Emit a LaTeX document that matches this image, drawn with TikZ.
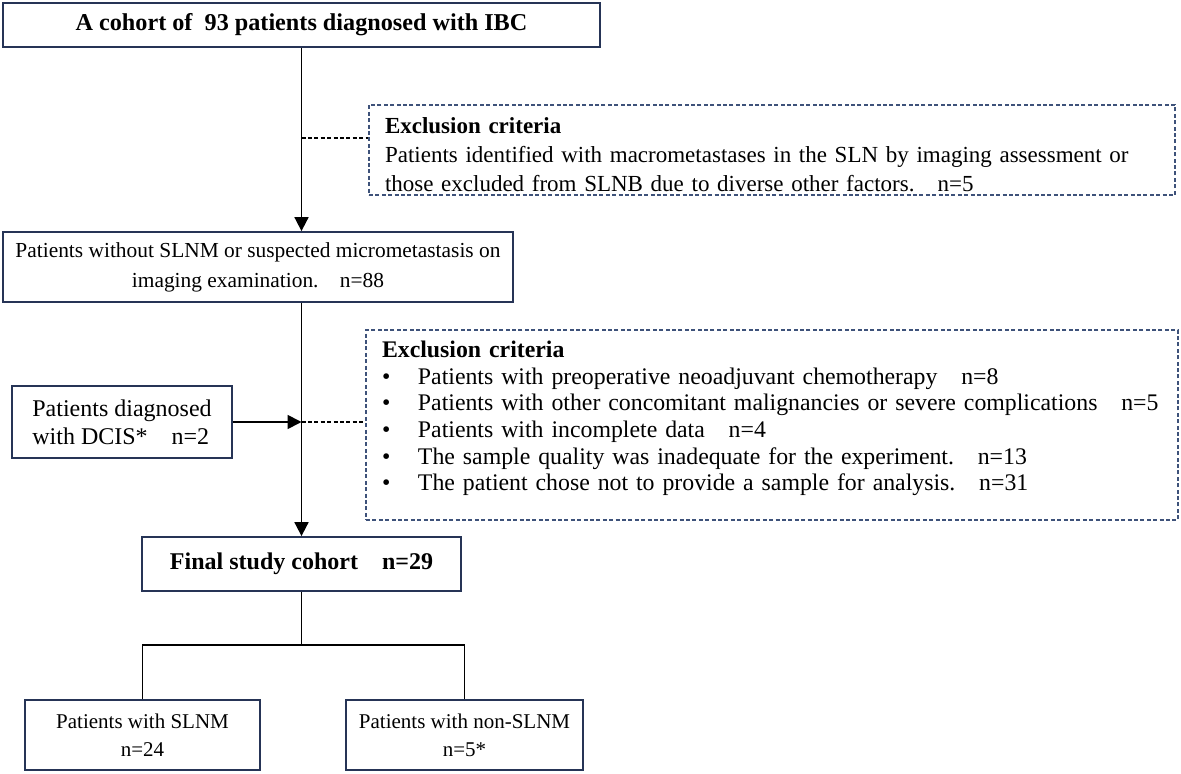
\documentclass[tikz,border=0pt]{standalone}
\usepackage{fontspec}
\setmainfont{Liberation Serif}
\usetikzlibrary{arrows.meta}
\definecolor{boxBlue}{RGB}{38,52,86}
\definecolor{dashBlue}{RGB}{62,82,122}

\begin{document}
\begin{tikzpicture}[x=0.5pt,y=-0.5pt,
    >={Triangle[length=7pt,width=7pt]},
    box/.style={draw=boxBlue,line width=0.9pt,inner sep=0pt,align=center,
        font=\fontsize{11.5}{13.5}\selectfont},
    exbox/.style={draw=dashBlue,line width=0.6pt,dash pattern=on 2pt off 1.2pt,
        align=left,inner xsep=8pt,inner ysep=0pt,font=\fontsize{11.5}{13.5}\selectfont},
    flow/.style={line width=0.9pt},
    side/.style={line width=0.6pt,dash pattern=on 2pt off 1.2pt}]
    \useasboundingbox (0,0) rectangle (1181,774);

    % main column
    \node[box,font=\fontsize{12.1}{14}\selectfont\bfseries,minimum width=298.5pt,minimum height=22pt]
        (cohort) at (301.5,25) {A cohort of \ 93 patients diagnosed with IBC};
    \node[box,font=\fontsize{10.7}{15}\selectfont,minimum width=255pt,minimum height=35pt] (nomet) at (258,267)
        {Patients without SLNM or suspected micrometastasis on\\ imaging examination.\quad n=88};
    \node[box,font=\fontsize{12}{14}\selectfont\bfseries,minimum width=159.5pt,minimum height=27pt]
        (final) at (301.5,564) {Final study cohort\quad n=29};

    % side boxes
    \node[box,font=\fontsize{12}{14}\selectfont,align=left,minimum width=110pt,minimum height=36pt] (dcis) at (122,422)
        {Patients diagnosed\\ with DCIS*\quad n=2};
    \node[exbox,font=\fontsize{11.5}{14.5}\selectfont,text width=387pt,minimum height=45pt] (excl1) at (772,150)
        {\rule{0pt}{13pt}\textbf{Exclusion criteria}\\
         Patients identified with macrometastases in the SLN by imaging assessment or\\
         those excluded from SLNB due to diverse other factors.\quad n=5};
    \node[exbox,font=\fontsize{11.9}{13.3}\selectfont,text width=390pt,minimum height=95pt] (excl2) at (772,425)
        {\textbf{Exclusion criteria}\\
         \makebox[18pt][l]{\textbullet}Patients with preoperative neoadjuvant chemotherapy\quad n=8\\
         \makebox[18pt][l]{\textbullet}Patients with other concomitant malignancies or severe complications\quad n=5\\
         \makebox[18pt][l]{\textbullet}Patients with incomplete data\quad n=4\\
         \makebox[18pt][l]{\textbullet}The sample quality was inadequate for the experiment.\quad n=13\\
         \makebox[18pt][l]{\textbullet}The patient chose not to provide a sample for analysis.\quad n=31\rule[-9pt]{0pt}{9pt}};

    % subgroups
    \node[box,font=\fontsize{10.5}{14}\selectfont,minimum width=117.5pt,minimum height=35pt]
        (slnm) at (142.5,735) {Patients with SLNM\\ n=24};
    \node[box,font=\fontsize{10.5}{14}\selectfont,minimum width=118.5pt,minimum height=35pt]
        (nonslnm) at (464.5,735) {Patients with non-SLNM\\ n=5*};

    % connectors
    \coordinate (j1) at (301.5,138);
    \coordinate (j2) at (301.5,422);
    \coordinate (split) at (301.5,645);
    \draw[flow,->] (cohort.south) -- (cohort.south |- nomet.north);
    \draw[side] (j1) -- (j1 -| excl1.west);
    \draw[flow,->] (cohort.south |- nomet.south) -- (final.north);
    \draw[flow,->] (dcis.east) -- (j2);
    \draw[side] (j2) -- (j2 -| excl2.west);
    \draw[flow] (final.south) -- (split);
    \draw[flow] (slnm.north) |- (split) -| (nonslnm.north);
\end{tikzpicture}
\end{document}
